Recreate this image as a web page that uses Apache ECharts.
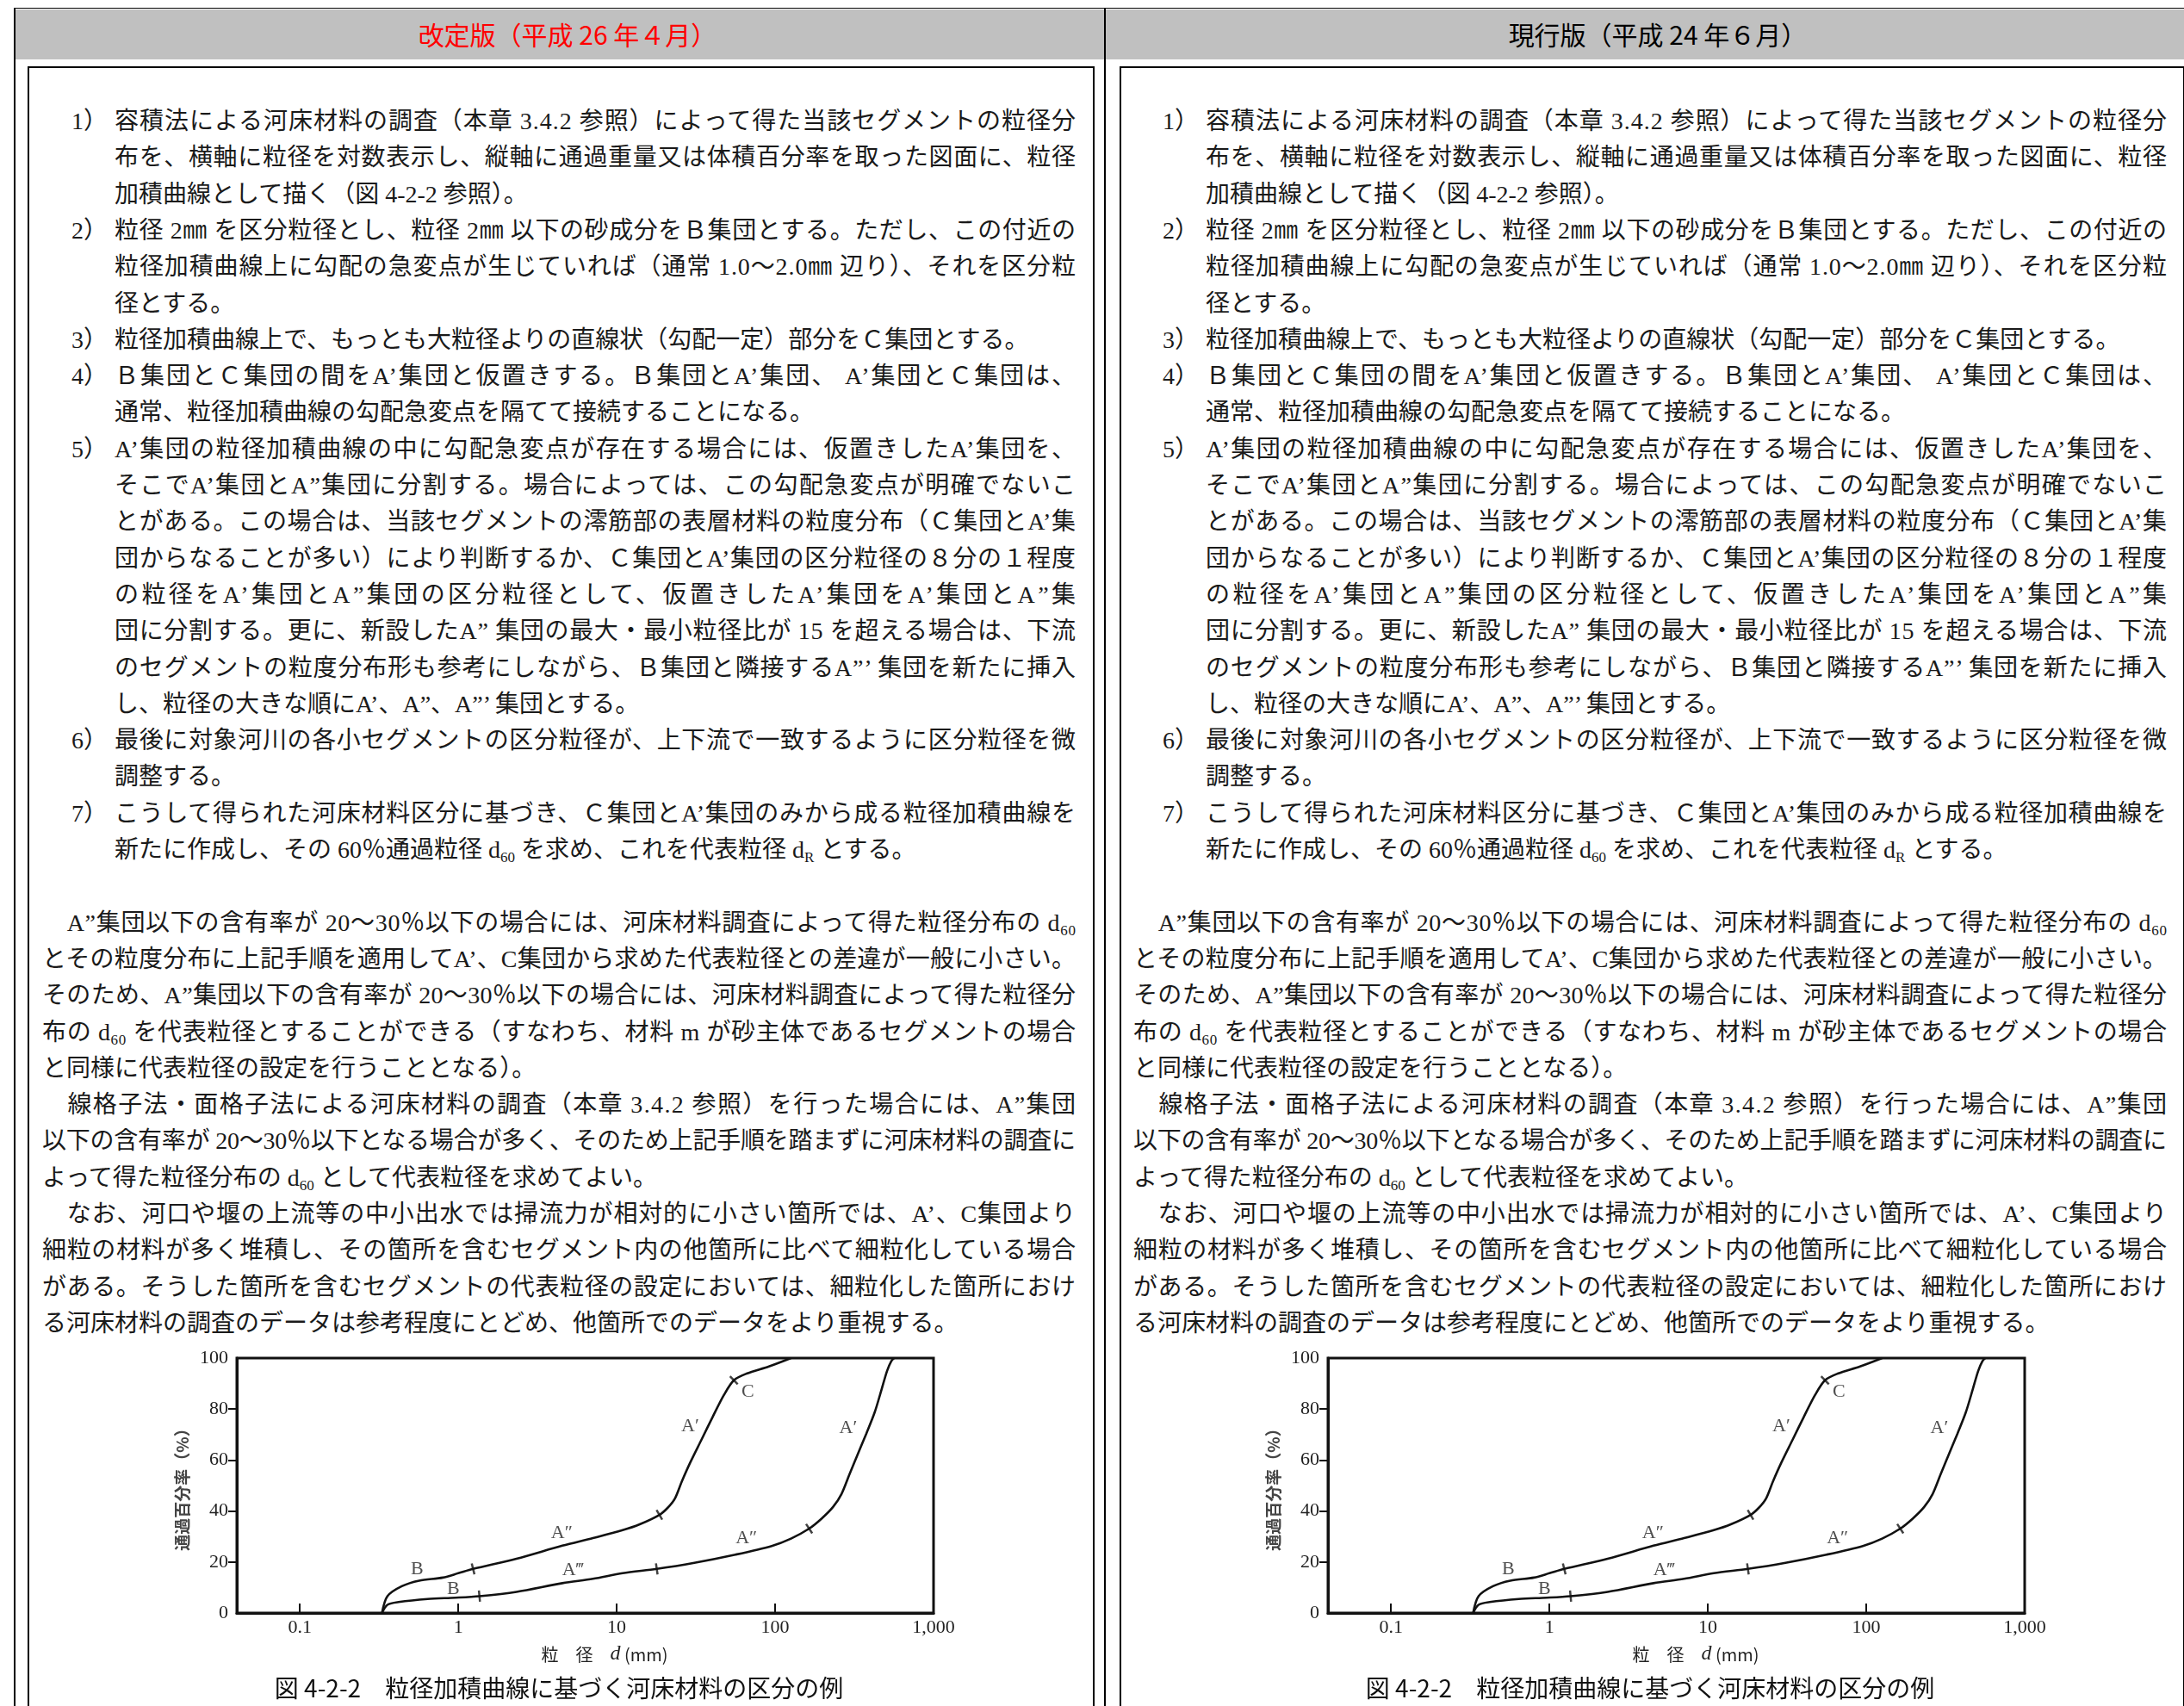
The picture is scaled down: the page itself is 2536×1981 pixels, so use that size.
<!DOCTYPE html>
<html lang="ja">
<head>
<meta charset="utf-8">
<script src="https://cdn.jsdelivr.net/npm/echarts/dist/echarts.min.js"></script>
<style>
html,body{margin:0;padding:0;background:#fff;}
body{width:2536px;height:1981px;overflow:hidden;position:relative;
  font-family:"Liberation Serif","Noto Sans CJK JP",serif;color:#1a1a1a;}
.abs{position:absolute;}
.line{position:absolute;height:42px;line-height:42px;font-size:28px;white-space:nowrap;}
.line sub{font-size:17px;vertical-align:-5px;line-height:0;}
.hdr{position:absolute;top:10px;height:59px;line-height:59px;font-family:"Noto Sans CJK JP",sans-serif;font-size:30px;white-space:nowrap;transform:translateX(-50%);}
.chart{position:absolute;top:1550px;width:1050px;height:431px;}
</style>
</head>
<body>
<div class="abs" style="left:16px;top:9px;width:2600px;height:2100px;border-left:2px solid #000;border-top:1.5px solid #000;"></div>
<div class="abs" style="left:18px;top:11px;width:2600px;height:58px;background:#c0c0c0;"></div>
<div class="abs" style="left:1282px;top:10px;width:2px;height:2000px;background:#000;"></div>
<div class="abs" style="left:32px;top:77px;width:1239px;height:2000px;border:2px solid #000;box-sizing:border-box;"></div>
<div class="abs" style="left:1300px;top:77px;width:1237px;height:2000px;border:2px solid #000;box-sizing:border-box;"></div>
<div id="hdrL" class="hdr" style="left:659px;color:#ff0000;"></div>
<div id="hdrR" class="hdr" style="left:1925px;color:#000;"></div>
<div id="textLayer"></div>
<div id="chartL" class="chart" style="left:150px;"></div>
<div id="chartR" class="chart" style="left:1417px;"></div>
<script>
// ---------- text content ----------
const headerLeft = '改定版（平成 26 年４月）';
const headerRight = '現行版（平成 24 年６月）';

const itemNumbers = ['1）','','','2）','','','3）','4）','','5）','','','','','','','','6）','','7）',''];
const itemTexts = [
  '容積法による河床材料の調査（本章 3.4.2 参照）によって得た当該セグメントの粒径分',
  '布を、横軸に粒径を対数表示し、縦軸に通過重量又は体積百分率を取った図面に、粒径',
  '加積曲線として描く（図 4-2-2 参照）。',
  '粒径 2㎜ を区分粒径とし、粒径 2㎜ 以下の砂成分をＢ集団とする。ただし、この付近の',
  '粒径加積曲線上に勾配の急変点が生じていれば（通常 1.0～2.0㎜ 辺り）、それを区分粒',
  '径とする。',
  '粒径加積曲線上で、もっとも大粒径よりの直線状（勾配一定）部分をＣ集団とする。',
  'Ｂ集団とＣ集団の間をA’集団と仮置きする。Ｂ集団とA’集団、 A’集団とＣ集団は、',
  '通常、粒径加積曲線の勾配急変点を隔てて接続することになる。',
  'A’集団の粒径加積曲線の中に勾配急変点が存在する場合には、仮置きしたA’集団を、',
  'そこでA’集団とA”集団に分割する。場合によっては、この勾配急変点が明確でないこ',
  'とがある。この場合は、当該セグメントの澪筋部の表層材料の粒度分布（Ｃ集団とA’集',
  '団からなることが多い）により判断するか、Ｃ集団とA’集団の区分粒径の８分の１程度',
  'の粒径をA’集団とA”集団の区分粒径として、仮置きしたA’集団をA’集団とA”集',
  '団に分割する。更に、新設したA” 集団の最大・最小粒径比が 15 を超える場合は、下流',
  'のセグメントの粒度分布形も参考にしながら、Ｂ集団と隣接するA”’ 集団を新たに挿入',
  'し、粒径の大きな順にA’、A”、A”’ 集団とする。',
  '最後に対象河川の各小セグメントの区分粒径が、上下流で一致するように区分粒径を微',
  '調整する。',
  'こうして得られた河床材料区分に基づき、Ｃ集団とA’集団のみから成る粒径加積曲線を',
  '新たに作成し、その 60％通過粒径 d<sub>60</sub> を求め、これを代表粒径 d<sub>R</sub> とする。'
];
const itemFull = [1,1,0,1,1,0,0,1,0,1,1,1,1,1,1,1,0,1,0,1,0];

const paraTexts = [
  '　A”集団以下の含有率が 20～30％以下の場合には、河床材料調査によって得た粒径分布の d<sub>60</sub>',
  'とその粒度分布に上記手順を適用してA’、C集団から求めた代表粒径との差違が一般に小さい。',
  'そのため、A”集団以下の含有率が 20～30％以下の場合には、河床材料調査によって得た粒径分',
  '布の d<sub>60</sub> を代表粒径とすることができる（すなわち、材料 m が砂主体であるセグメントの場合',
  'と同様に代表粒径の設定を行うこととなる）。',
  '　線格子法・面格子法による河床材料の調査（本章 3.4.2 参照）を行った場合には、A”集団',
  '以下の含有率が 20～30％以下となる場合が多く、そのため上記手順を踏まずに河床材料の調査に',
  'よって得た粒径分布の d<sub>60</sub> として代表粒径を求めてよい。',
  '　なお、河口や堰の上流等の中小出水では掃流力が相対的に小さい箇所では、A’、C集団より',
  '細粒の材料が多く堆積し、その箇所を含むセグメント内の他箇所に比べて細粒化している場合',
  'がある。そうした箇所を含むセグメントの代表粒径の設定においては、細粒化した箇所におけ',
  'る河床材料の調査のデータは参考程度にとどめ、他箇所でのデータをより重視する。'
];
const paraFull = [1,1,1,1,0,1,1,0,1,1,1,0];

const figCaption = '図 4-2-2　粒径加積曲線に基づく河床材料の区分の例';
const yAxisTitle = '通過百分率（%）';

// ---------- chart data ----------
const xTickValues = [0.1, 1, 10, 100, 1000];
const xTickLabels = ['0.1', '1', '10', '100', '1,000'];
const yTickValues = [20, 40, 60, 80];

const upperSize = [0.33, 0.357, 0.44, 0.566, 0.8, 1.0, 1.24, 2.33, 4.54, 7.08, 10.9, 13.97, 18.6, 21.0, 23.3, 25.8, 29.1, 34.3, 40.4, 47.5, 54.9, 66, 91.3, 126];
const upperPass = [0, 6.6, 10.5, 12.7, 13.9, 15.6, 17.3, 21.3, 26.4, 29.4, 32.5, 34.8, 38.5, 41.3, 44.9, 51.7, 59.0, 68.0, 77.0, 85.5, 91.3, 93.9, 96.7, 100];
const lowerSize = [0.33, 0.357, 0.42, 0.64, 0.96, 1.36, 2.33, 4.54, 7.08, 10.9, 17.9, 30.4, 56.1, 95.2, 126, 164, 197, 232, 262, 295, 333, 376, 425, 470, 509, 541, 564];
const lowerPass = [0, 3.2, 4.3, 5.5, 6.0, 6.6, 8.3, 11.7, 13.4, 15.6, 17.3, 19.6, 22.9, 26.3, 29.2, 33.1, 37.1, 41.6, 46.6, 54.5, 62.4, 70.3, 78.7, 87.7, 95.0, 98.8, 100];
// group boundary marks (points on the curves)
const upperBreakSize = [1.24, 18.6, 54.9];
const upperBreakPass = [17.3, 38.5, 91.3];
const lowerBreakSize = [1.36, 17.9, 164];
const lowerBreakPass = [6.6, 17.3, 33.1];
// group names placed on the figure
const groupNames = ['B', 'B', 'A″', 'A‴', 'A′', 'C', 'A′', 'A″'];
const groupNameSize = [0.55, 0.93, 4.5, 5.3, 29.1, 67.3, 289.5, 65.9];
const groupNamePass = [17, 9.4, 31.4, 16.9, 73.1, 86.6, 72.5, 29.2];

// ---------- text layout ----------
document.getElementById('hdrL').textContent = headerLeft;
document.getElementById('hdrR').textContent = headerRight;

const LINE0 = 141, PITCH = 42.3, COLS = [0, 1267];
const layer = document.getElementById('textLayer');
const stretchList = [];
function addLine(html, left, slot, width, full) {
  const d = document.createElement('div');
  d.className = 'line';
  d.style.left = left + 'px';
  d.style.top = (LINE0 + slot * PITCH - 21) + 'px';
  d.innerHTML = html;
  layer.appendChild(d);
  if (full) stretchList.push([d, width]);
}
COLS.forEach(off => {
  itemTexts.forEach((t, i) => {
    if (itemNumbers[i]) addLine(itemNumbers[i], 83 + off, i, 0, false);
    addLine(t, 133 + off, i, 1116, itemFull[i]);
  });
  paraTexts.forEach((t, i) => addLine(t, 49 + off, 22 + i, 1200, paraFull[i]));
});
function stretch() {
  stretchList.forEach(([d, w]) => {
    d.style.letterSpacing = '0px';
    const nat = d.getBoundingClientRect().width;
    const n = d.textContent.length;
    if (n > 1) d.style.letterSpacing = ((w - nat) / (n - 1)) + 'px';
  });
}
stretch();
if (document.fonts && document.fonts.ready) document.fonts.ready.then(stretch);

// ---------- charts ----------
const pairs = (xs, ys) => xs.map((x, i) => [x, ys[i]]);
const serif = "'Liberation Serif', 'DejaVu Serif', serif";
function xLabel(v) {
  for (let i = 0; i < xTickValues.length; i++) {
    if (Math.abs(Math.log10(v) - Math.log10(xTickValues[i])) < 1e-6) return xTickLabels[i];
  }
  return '';
}
function buildOption() {
  return {
    animation: false,
    grid: { left: 125, top: 27, width: 809, height: 296, show: true, borderColor: '#111', borderWidth: 3, backgroundColor: 'transparent' },
    xAxis: {
      type: 'log', logBase: 10, min: 0.04, max: 1000,
      axisLine: { show: true, lineStyle: { color: '#111', width: 3 } },
      axisTick: { show: true, inside: true, length: 11, lineStyle: { color: '#111', width: 2 } },
      axisLabel: { showMinLabel: false, margin: 6, fontFamily: serif, fontSize: 22, color: '#222', formatter: xLabel },
      splitLine: { show: false },
      name: '{a|粒　径　}{i|d}{a| (mm)}',
      nameLocation: 'middle', nameGap: 36,
      nameTextStyle: { padding: [0, 0, 0, 45], rich: {
        a: { fontFamily: "'Noto Sans CJK JP', sans-serif", fontSize: 20, color: '#222' },
        i: { fontFamily: serif, fontStyle: 'italic', fontSize: 24, color: '#222' } } }
    },
    yAxis: {
      type: 'value', min: 0, max: 100, interval: 20,
      axisLine: { show: true, lineStyle: { color: '#111', width: 3 } },
      axisTick: { show: true, inside: false, length: 10, customValues: yTickValues, lineStyle: { color: '#111', width: 2 } },
      axisLabel: { margin: 10, fontFamily: serif, fontSize: 22, color: '#222' },
      splitLine: { show: false },
      name: yAxisTitle, nameLocation: 'middle', nameGap: 48, nameRotate: 90,
      nameTextStyle: { fontFamily: "'Noto Sans CJK JP', sans-serif", fontSize: 19, fontWeight: 'bold', color: '#444' }
    },
    graphic: [{ type: 'text', x: 499, y: 410, style: { text: figCaption, fill: '#111', font: '28px "Noto Sans CJK JP"', textAlign: 'center', textVerticalAlign: 'middle' } }],
    series: [
      { id: 'upper', type: 'line', data: pairs(upperSize, upperPass), smooth: 0.3, showSymbol: false, lineStyle: { color: '#111', width: 2.6 }, silent: true },
      { id: 'lower', type: 'line', data: pairs(lowerSize, lowerPass), smooth: 0.3, showSymbol: false, lineStyle: { color: '#111', width: 2.6 }, silent: true },
      { id: 'ub', type: 'scatter', data: pairs(upperBreakSize, upperBreakPass), symbol: 'rect', symbolSize: [2.5, 13], itemStyle: { color: '#111' }, silent: true },
      { id: 'lb', type: 'scatter', data: pairs(lowerBreakSize, lowerBreakPass), symbol: 'rect', symbolSize: [2.5, 13], itemStyle: { color: '#111' }, silent: true },
      { id: 'names', type: 'scatter', symbolSize: 0, silent: true,
        data: groupNames.map((n, i) => ({ name: n, value: [groupNameSize[i], groupNamePass[i]] })),
        label: { show: true, position: 'inside', formatter: p => p.name, fontFamily: serif, fontSize: 22, color: '#222' } }
    ]
  };
}
function breakRotations(chart, bx, by, cx, cy) {
  return bx.map((x, k) => {
    let idx = 0, best = Infinity;
    cx.forEach((v, i) => { const d = Math.abs(Math.log(v) - Math.log(x)) + Math.abs(cy[i] - by[k]); if (d < best) { best = d; idx = i; } });
    const a = chart.convertToPixel({ gridIndex: 0 }, [cx[Math.max(0, idx - 1)], cy[Math.max(0, idx - 1)]]);
    const b = chart.convertToPixel({ gridIndex: 0 }, [cx[Math.min(cx.length - 1, idx + 1)], cy[Math.min(cy.length - 1, idx + 1)]]);
    return Math.atan2(-(b[1] - a[1]), b[0] - a[0]) * 180 / Math.PI;
  });
}
function makeChart(id) {
  const chart = echarts.init(document.getElementById(id));
  chart.setOption(buildOption());
  const ur = breakRotations(chart, upperBreakSize, upperBreakPass, upperSize, upperPass);
  const lr = breakRotations(chart, lowerBreakSize, lowerBreakPass, lowerSize, lowerPass);
  chart.setOption({ series: [
    { id: 'ub', data: upperBreakSize.map((x, i) => ({ value: [x, upperBreakPass[i]], symbolRotate: ur[i] })) },
    { id: 'lb', data: lowerBreakSize.map((x, i) => ({ value: [x, lowerBreakPass[i]], symbolRotate: lr[i] })) }
  ] });
}
makeChart('chartL');
makeChart('chartR');
</script>
</body>
</html>
